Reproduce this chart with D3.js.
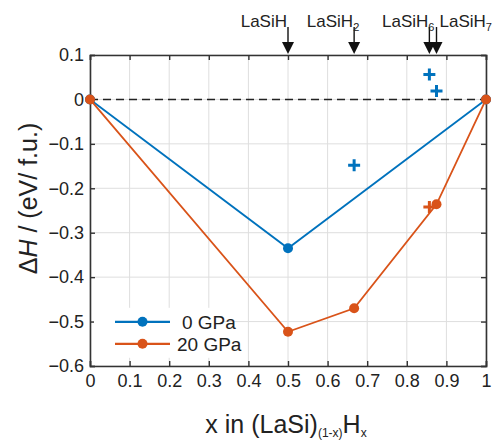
<!DOCTYPE html>
<html>
<head>
<meta charset="utf-8">
<script src="https://cdn.jsdelivr.net/npm/d3@7"></script>
<style>
  body { margin: 0; background: #fff; }
  svg { font-family: "Liberation Sans", Arial, Helvetica, sans-serif; }
</style>
</head>
<body>
<div id="chart"></div>
<script>
// values
const xTicks = [0, 0.1, 0.2, 0.3, 0.4, 0.5, 0.6, 0.7, 0.8, 0.9, 1];
const yTicks = [0.1, 0, -0.1, -0.2, -0.3, -0.4, -0.5, -0.6];

const hull0X = [0, 0.5, 1];
const hull0Y = [0, -0.335, 0];
const hull20X = [0, 0.5, 0.667, 0.875, 1];
const hull20Y = [0, -0.523, -0.47, -0.236, 0];

const above0X = [0.667, 0.857, 0.875];
const above0Y = [-0.148, 0.056, 0.019];
const above20X = [0.857];
const above20Y = [-0.242];

const phaseNames = ["LaSiH", "LaSiH", "LaSiH", "LaSiH"];
const phaseSubs = ["", "2", "6", "7"];
const phaseX = [0.5, 0.667, 0.857, 0.875];

const seriesNames = ["0 GPa", "20 GPa"];
const blue = "#0072BD", red = "#D95319";

const width = 492, height = 443;
const margin = { left: 90, right: 6, top: 55, bottom: 77 };
const innerW = width - margin.left - margin.right;
const innerH = height - margin.top - margin.bottom;

const svg = d3.select("#chart").append("svg")
  .attr("width", width).attr("height", height);

const g = svg.append("g").attr("transform", `translate(${margin.left},${margin.top})`);

const x = d3.scaleLinear().domain([0, 1]).range([0, innerW]);
const y = d3.scaleLinear().domain([-0.6, 0.1]).range([innerH, 0]);

// grid
g.append("g").selectAll("line").data(xTicks).join("line")
  .attr("x1", d => x(d)).attr("x2", d => x(d))
  .attr("y1", 0).attr("y2", innerH)
  .attr("stroke", "#dedede").attr("stroke-width", 1);
g.append("g").selectAll("line").data(yTicks).join("line")
  .attr("y1", d => y(d)).attr("y2", d => y(d))
  .attr("x1", 0).attr("x2", innerW)
  .attr("stroke", "#dedede").attr("stroke-width", 1);

// zero reference
g.append("line")
  .attr("x1", 0).attr("x2", innerW).attr("y1", y(0)).attr("y2", y(0))
  .attr("stroke", "#222").attr("stroke-width", 1.6)
  .attr("stroke-dasharray", "8,5");

// axes (ticks inside, on all sides)
const tickLen = 5;
const xAxis = d3.axisBottom(x).tickValues(xTicks).tickSize(-tickLen).tickPadding(7)
  .tickFormat(d => d3.format("~g")(d));
const yAxis = d3.axisLeft(y).tickValues(yTicks).tickSize(-tickLen).tickPadding(6)
  .tickFormat(d => d3.format("~g")(d));

const gx = g.append("g").attr("transform", `translate(0,${innerH})`).call(xAxis);
const gy = g.append("g").call(yAxis);
const gxt = g.append("g").call(d3.axisTop(x).tickValues(xTicks).tickSize(-tickLen).tickFormat(""));
const gyr = g.append("g").attr("transform", `translate(${innerW},0)`)
  .call(d3.axisRight(y).tickValues(yTicks).tickSize(-tickLen).tickFormat(""));

[gx, gy, gxt, gyr].forEach(a => {
  a.select(".domain").attr("stroke", "#333").attr("stroke-width", 1.6);
  a.selectAll(".tick line").attr("stroke", "#333").attr("stroke-width", 1.4);
  a.selectAll(".tick text").attr("fill", "#222").attr("font-size", 18);
});
gx.selectAll(".tick text").attr("dy", "0.8em");

// hull lines
const line = d3.line().x(d => x(d[0])).y(d => y(d[1]));
const hull0 = hull0X.map((v, i) => [v, hull0Y[i]]);
const hull20 = hull20X.map((v, i) => [v, hull20Y[i]]);

g.append("path").datum(hull0).attr("d", line)
  .attr("fill", "none").attr("stroke", blue).attr("stroke-width", 1.8);
g.selectAll(".dot0").data(hull0).join("circle").attr("class", "dot0")
  .attr("cx", d => x(d[0])).attr("cy", d => y(d[1])).attr("r", 5).attr("fill", blue);

g.append("path").datum(hull20).attr("d", line)
  .attr("fill", "none").attr("stroke", red).attr("stroke-width", 1.8);
g.selectAll(".dot20").data(hull20).join("circle").attr("class", "dot20")
  .attr("cx", d => x(d[0])).attr("cy", d => y(d[1])).attr("r", 5).attr("fill", red);

// unstable phases (plus markers)
function drawPlus(xs, ys, color) {
  g.append("g").selectAll("path").data(xs.map((v, i) => [v, ys[i]])).join("path")
    .attr("transform", d => `translate(${x(d[0])},${y(d[1])})`)
    .attr("d", "M-6,0H6M0,-6V6")
    .attr("stroke", color).attr("stroke-width", 3).attr("fill", "none");
}
drawPlus(above0X, above0Y, blue);
drawPlus(above20X, above20Y, red);

// phase arrows on top
const arrows = g.append("g");
phaseX.forEach((px, i) => {
  const ax = x(px);
  arrows.append("line").attr("x1", ax).attr("x2", ax).attr("y1", -28).attr("y2", -12)
    .attr("stroke", "#111").attr("stroke-width", 1.4);
  arrows.append("path")
    .attr("d", `M${ax - 6},${-13}L${ax + 6},${-13}L${ax},${-1}Z`)
    .attr("fill", "#111");
  const last = i === phaseX.length - 1;
  const t = arrows.append("text").attr("y", -28).attr("font-size", 17).attr("fill", "#222");
  if (last) {
    t.attr("x", ax + 3).attr("text-anchor", "start");
    t.append("tspan").text(phaseNames[i]);
    t.append("tspan").text(phaseSubs[i]).attr("font-size", 11).attr("dy", 4);
  } else {
    t.attr("x", ax - 1).attr("text-anchor", "end").text(phaseNames[i]);
    if (phaseSubs[i]) {
      arrows.append("text").attr("x", ax - 1).attr("y", -24)
        .attr("font-size", 11).attr("fill", "#222").text(phaseSubs[i]);
    }
  }
});

// legend
const leg = g.append("g").attr("transform", `translate(${x(0) + 4},${y(-0.46) + 4})`);
leg.append("rect").attr("width", 130).attr("height", 50).attr("fill", "#fff");
[blue, red].forEach((c, i) => {
  const ly = 14 + i * 22;
  leg.append("line").attr("x1", 21).attr("x2", 76).attr("y1", ly).attr("y2", ly)
    .attr("stroke", c).attr("stroke-width", 2.2);
  leg.append("circle").attr("cx", 48.5).attr("cy", ly).attr("r", 5).attr("fill", c);
  leg.append("text").attr("x", i === 0 ? 88 : 83).attr("y", ly + 7)
    .attr("font-size", 19).attr("fill", "#222").text(seriesNames[i]);
});

// axis titles
const xt = svg.append("text").attr("x", margin.left + innerW / 2 - 2).attr("y", 433)
  .attr("text-anchor", "middle").attr("font-size", 25).attr("fill", "#222");
xt.append("tspan").text("x in (LaSi)");
xt.append("tspan").text("(1-x)").attr("font-size", 12).attr("dy", 4);
xt.append("tspan").text("H").attr("dy", -4);
xt.append("tspan").text("x").attr("font-size", 12).attr("dy", 4);

const yt = svg.append("text")
  .attr("transform", `translate(37,${margin.top + innerH / 2 - 12}) rotate(-90)`)
  .attr("text-anchor", "middle").attr("font-size", 25).attr("fill", "#222");
yt.append("tspan").text("Δ");
yt.append("tspan").text("H").attr("font-style", "italic");
yt.append("tspan").text(" / (eV/ f.u.)");
</script>
</body>
</html>
